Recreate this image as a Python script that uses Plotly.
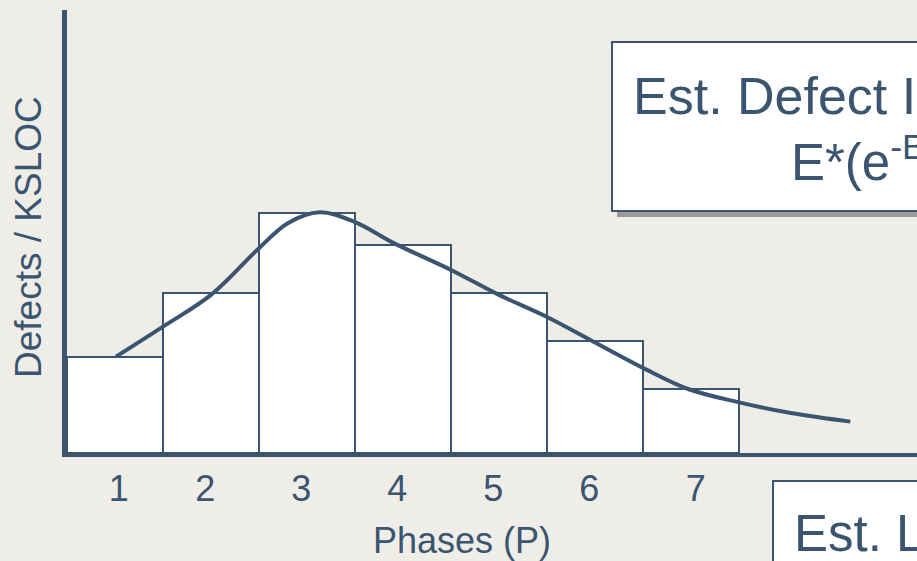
import plotly.graph_objects as go

# ---- data ----
phases = [1, 2, 3, 4, 5, 6, 7]
defects = [3, 5, 7.5, 6.5, 5, 3.5, 2]
tick_pos = [1.04, 1.94, 2.94, 3.94, 4.94, 5.94, 7.05]
tick_labels = ["1", "2", "3", "4", "5", "6", "7"]

curve_x = [1.01, 1.5, 2.0, 2.5, 2.8, 3.13, 3.49, 3.91, 4.5, 5.0, 5.5, 5.99, 6.5, 6.97, 7.49, 8.04, 8.66]
curve_y = [3.01, 3.95, 4.94, 6.40, 7.18, 7.52, 7.23, 6.55, 5.72, 4.94, 4.25, 3.47, 2.66, 2.0, 1.59, 1.25, 0.98]

x_title = "Phases (P)"
y_title = "Defects / KSLOC"
box1_line1 = "Est. Defect Injection Rate ="
box1_line2 = "E*(e<sup>-B(P-1)²</sup> - e<sup>-BP²</sup>)"
box2_line1 = "Est. Latent Defects"

# ---- style ----
BG = "#EEEDE7"
INK = "#3B5570"
FONT = "Liberation Sans, Arial, sans-serif"
W, H = 917, 561
L, R, T, B = 67, 0, 10, 108
PW, PH = W - L - R, H - T - B
PX_PER_X = 96
PX_PER_Y = 32


def px(xpix):
    return (xpix - L) / PW


def py(ypix):
    return (H - B - ypix) / PH


fig = go.Figure()
fig.add_trace(go.Bar(
    x=phases, y=defects, width=1,
    marker=dict(color="white", line=dict(color=INK, width=2)),
    hoverinfo="skip", showlegend=False,
))
fig.add_trace(go.Scatter(
    x=curve_x, y=curve_y, mode="lines",
    line=dict(color=INK, width=4, shape="spline", smoothing=1.0),
    hoverinfo="skip", showlegend=False,
))

shapes = [
    # box 1 shadow + box
    dict(type="rect", xref="paper", yref="paper", x0=px(617), x1=px(960), y0=py(217), y1=py(47),
         fillcolor="#999999", line=dict(width=0), layer="above"),
    dict(type="rect", xref="paper", yref="paper", x0=px(612), x1=px(955), y0=py(211), y1=py(42),
         fillcolor="white", line=dict(color=INK, width=2), layer="above"),
    # box 2
    dict(type="rect", xref="paper", yref="paper", x0=px(778), x1=px(960), y0=py(620), y1=py(486),
         fillcolor="#999999", line=dict(width=0), layer="above"),
    dict(type="rect", xref="paper", yref="paper", x0=px(773), x1=px(955), y0=py(615), y1=py(481),
         fillcolor="white", line=dict(color=INK, width=2), layer="above"),
]

annotations = [
    dict(text=x_title, xref="paper", yref="paper", x=px(462), y=py(540.5),
         xanchor="center", yanchor="middle", showarrow=False,
         font=dict(family=FONT, size=36, color=INK)),
    dict(text=y_title, xref="paper", yref="paper", x=px(29), y=py(237),
         xanchor="center", yanchor="middle", showarrow=False, textangle=-90,
         font=dict(family=FONT, size=37, color=INK)),
    dict(text=box1_line1, xref="paper", yref="paper", x=px(631), y=py(95.5),
         xanchor="left", yanchor="middle", showarrow=False,
         font=dict(family=FONT, size=52, color=INK)),
    dict(text=box1_line2, xref="paper", yref="paper", x=px(789), y=py(159),
         xanchor="left", yanchor="middle", showarrow=False,
         font=dict(family=FONT, size=51, color=INK)),
    dict(text=box2_line1, xref="paper", yref="paper", x=px(792), y=py(533.5),
         xanchor="left", yanchor="middle", showarrow=False,
         font=dict(family=FONT, size=51, color=INK)),
]

fig.update_layout(
    width=W, height=H,
    margin=dict(l=L, r=R, t=T, b=B, pad=0),
    paper_bgcolor=BG, plot_bgcolor=BG,
    bargap=0,
    shapes=shapes, annotations=annotations,
    xaxis=dict(range=[0.5, 0.5 + PW / PX_PER_X], showgrid=False, zeroline=False,
               showline=True, linecolor=INK, linewidth=4,
               tickvals=tick_pos, ticktext=tick_labels, ticks="", ticklabelstandoff=1,
               tickfont=dict(family=FONT, size=36, color=INK), fixedrange=True),
    yaxis=dict(range=[0, PH / PX_PER_Y], showgrid=False, zeroline=False,
               showline=True, linecolor=INK, linewidth=5,
               showticklabels=False, ticks="", fixedrange=True),
)

fig.write_html(
    "out.html",
    config={"displayModeBar": False},
    post_script="document.body.style.margin='0';document.body.style.overflow='hidden';document.body.style.background='" + BG + "';",
)
